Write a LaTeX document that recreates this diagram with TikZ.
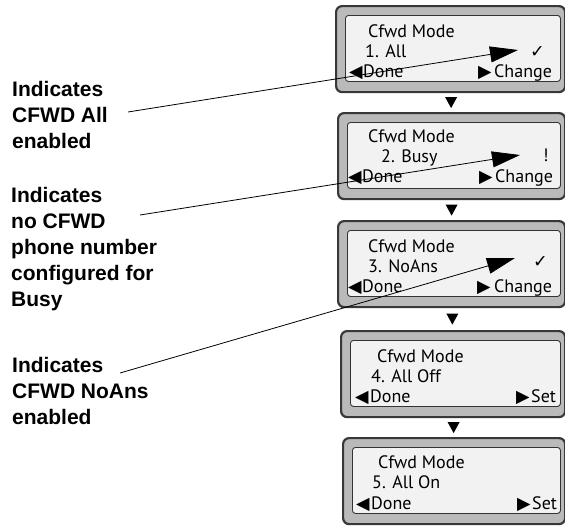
\documentclass[tikz,border=0pt]{standalone}
\usepackage{fontspec}
\setmainfont{Liberation Sans}
\newfontfamily\lcdfont{PT Sans}
\newfontfamily\glyphfont{DejaVu Sans}
\usetikzlibrary{arrows.meta,calc}

\tikzset{
  lcdframe/.style={draw=black!78, line width=2.2pt, fill=black!27, rounded corners=6pt, anchor=north west, inner sep=0pt, minimum height=86pt},
  lcdpanel/.style={draw=black!80, line width=0.9pt, fill=black!5, rounded corners=3pt, anchor=north west, inner sep=0pt, minimum height=66pt},
  lcdtext/.style={font=\lcdfont\fontsize{18}{18}\selectfont, anchor=base west, inner sep=0pt},
  softkey/.style={font=\glyphfont\fontsize{17.5}{18}\selectfont, anchor=base west, inner sep=0pt},
  callout/.style={font=\bfseries\fontsize{21}{26}\selectfont, align=left, anchor=north west, inner sep=0pt},
  pointer/.style={-{Triangle[length=28pt,width=16pt]}, line width=0.8pt},
  stepmark/.style={fill=black}
}

\begin{document}
\begin{tikzpicture}[x=1pt,y=-1pt]
\useasboundingbox (0,0) rectangle (565,525);

% Screen frames (number / left edge / top edge)
\foreach \n/\lft/\ytop in {1/335/5, 2/337/112, 3/337/220, 4/340/330, 5/342/437} {
  \pgfmathsetmacro{\scrw}{564-\lft}
  \pgfmathsetmacro{\panw}{564-\lft-14}
  \node[lcdframe, minimum width=\scrw pt] (scr\n) at (\lft,\ytop) {};
  \node[lcdpanel, minimum width=\panw pt] (pan\n) at ([xshift=10pt,yshift=-10pt]scr\n.north west) {};
}

% Down arrows between screens
\foreach \n/\m in {1/2, 2/3, 3/4, 4/5} {
  \coordinate (dn\n) at ($(scr\n.south)!0.5!(scr\m.north)$);
  \fill[stepmark] ([xshift=-6pt,yshift=5.5pt]dn\n) -- ++(12pt,0pt) -- ++(-6pt,-11pt) -- cycle;
}

% Screen 1
\node[lcdtext] (s1title) at (368,37) {Cfwd Mode};
\node[lcdtext] (s1item) at (365,57) {1. All};
\node[softkey] (s1left) at (349,77) {◀};
\node[lcdtext] (s1done) at (363,77) {Done};
\node[softkey] (s1right) at (478,77) {▶};
\node[lcdtext] (s1key) at (494,77) {Change};
\node[softkey] (s1mark) at (530,57) {✓};

% Screen 2
\node[lcdtext] (s2title) at (368,142) {Cfwd Mode};
\node[lcdtext] (s2item) at (381,162) {2. Busy};
\node[softkey] (s2left) at (348,182) {◀};
\node[lcdtext] (s2done) at (362,182) {Done};
\node[softkey] (s2right) at (479,182) {▶};
\node[lcdtext] (s2key) at (495,182) {Change};
\node[lcdtext] (s2mark) at (543,161) {!};

% Screen 3
\node[lcdtext] (s3title) at (368,252) {Cfwd Mode};
\node[lcdtext] (s3item) at (368,272) {3. NoAns};
\node[softkey] (s3left) at (348,292) {◀};
\node[lcdtext] (s3done) at (362,292) {Done};
\node[softkey] (s3right) at (477,292) {▶};
\node[lcdtext] (s3key) at (494,292) {Change};
\node[softkey] (s3mark) at (533,267) {✓};

% Screen 4
\node[lcdtext] (s4title) at (377,362) {Cfwd Mode};
\node[lcdtext] (s4item) at (371,382) {4. All Off};
\node[softkey] (s4left) at (355,402) {◀};
\node[lcdtext] (s4done) at (370,402) {Done};
\node[softkey] (s4right) at (516,402) {▶};
\node[lcdtext] (s4key) at (531,402) {Set};

% Screen 5
\node[lcdtext] (s5title) at (378,468) {Cfwd Mode};
\node[lcdtext] (s5item) at (372,488) {5. All On};
\node[softkey] (s5left) at (356,509) {◀};
\node[lcdtext] (s5done) at (371,509) {Done};
\node[softkey] (s5right) at (517,509) {▶};
\node[lcdtext] (s5key) at (532,509) {Set};

% Callout labels
\node[callout] (lbl1) at (12,81) {Indicates\\CFWD All\\enabled};
\node[callout] (lbl2) at (11,187) {Indicates\\no CFWD\\phone number\\configured for\\Busy};
\node[callout] (lbl3) at (12,357) {Indicates\\CFWD NoAns\\enabled};

% Pointers (tail -> tip)
\coordinate (tail1) at (128,112);
\coordinate (tip1) at (518,50);
\coordinate (tail2) at (140,215);
\coordinate (tip2) at (520,155);
\coordinate (tail3) at (120,373);
\coordinate (tip3) at (515,258);
\draw[pointer] (tail1) -- (tip1);
\draw[pointer] (tail2) -- (tip2);
\draw[pointer] (tail3) -- (tip3);
\end{tikzpicture}
\end{document}
